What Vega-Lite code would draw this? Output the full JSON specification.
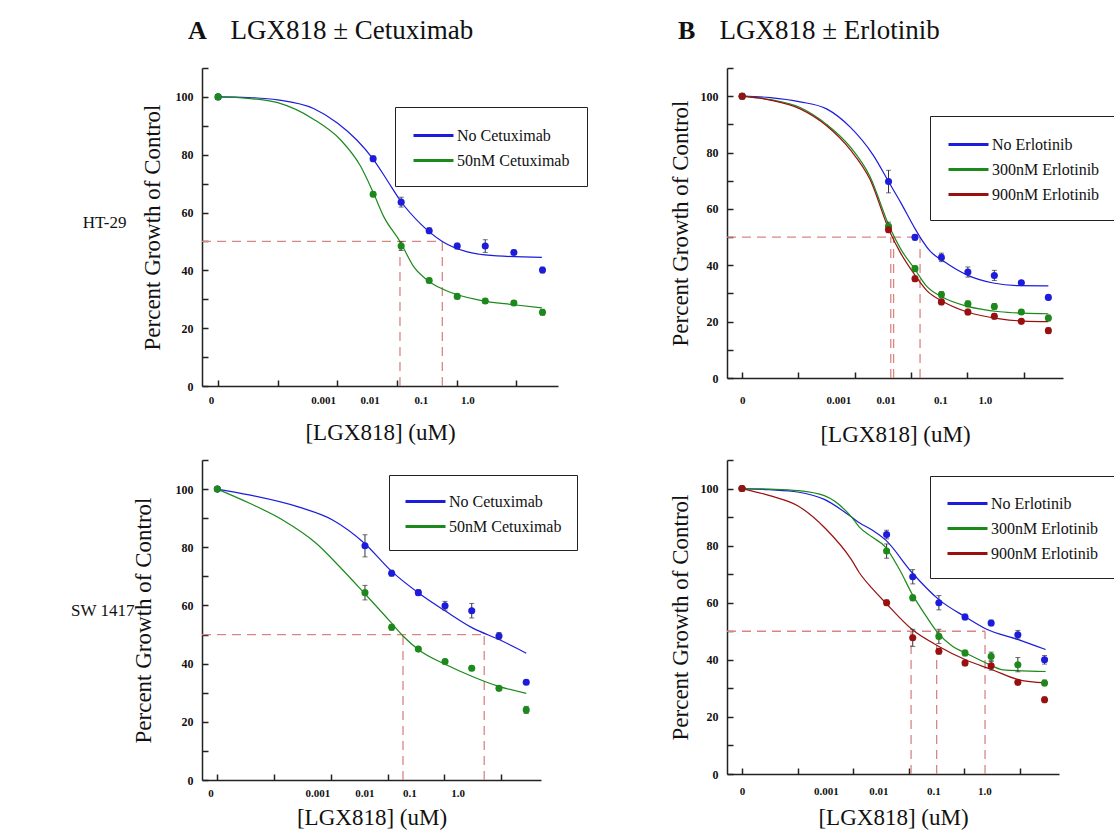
{
  "$schema": "https://vega.github.io/schema/vega-lite/v6.json",
  "autosize": {"type": "none"},
  "padding": {"left": 202, "top": 68, "right": 912, "bottom": 765},
  "background": "white",
  "config": {"view": {"stroke": null}, "font": "Liberation Serif"},
  "datasets": {
    "points": [
      {"panel":"A","series":"No Cetuximab","xpos":0,"growth":100,"err":0.8},
      {"panel":"A","series":"No Cetuximab","xpos":2.6,"growth":78.6,"err":1},
      {"panel":"A","series":"No Cetuximab","xpos":3.07,"growth":63.6,"err":1.7},
      {"panel":"A","series":"No Cetuximab","xpos":3.54,"growth":53.7,"err":1},
      {"panel":"A","series":"No Cetuximab","xpos":4.01,"growth":48.4,"err":1},
      {"panel":"A","series":"No Cetuximab","xpos":4.48,"growth":48.4,"err":2.2},
      {"panel":"A","series":"No Cetuximab","xpos":4.96,"growth":46.2,"err":0.8},
      {"panel":"A","series":"No Cetuximab","xpos":5.44,"growth":40.1,"err":1},
      {"panel":"A","series":"50nM Cetuximab","xpos":0,"growth":100,"err":0.8},
      {"panel":"A","series":"50nM Cetuximab","xpos":2.6,"growth":66.3,"err":0.8},
      {"panel":"A","series":"50nM Cetuximab","xpos":3.07,"growth":48.4,"err":1.5},
      {"panel":"A","series":"50nM Cetuximab","xpos":3.54,"growth":36.5,"err":0.8},
      {"panel":"A","series":"50nM Cetuximab","xpos":4.01,"growth":31,"err":0.8},
      {"panel":"A","series":"50nM Cetuximab","xpos":4.48,"growth":29.4,"err":0.8},
      {"panel":"A","series":"50nM Cetuximab","xpos":4.96,"growth":28.7,"err":0.8},
      {"panel":"A","series":"50nM Cetuximab","xpos":5.44,"growth":25.5,"err":1},
      {"panel":"B","series":"No Erlotinib","xpos":0,"growth":100,"err":0.8},
      {"panel":"B","series":"No Erlotinib","xpos":2.6,"growth":69.7,"err":4},
      {"panel":"B","series":"No Erlotinib","xpos":3.07,"growth":49.9,"err":1},
      {"panel":"B","series":"No Erlotinib","xpos":3.54,"growth":42.8,"err":1.5},
      {"panel":"B","series":"No Erlotinib","xpos":4.01,"growth":37.6,"err":1.8},
      {"panel":"B","series":"No Erlotinib","xpos":4.48,"growth":36.4,"err":1.8},
      {"panel":"B","series":"No Erlotinib","xpos":4.96,"growth":33.8,"err":0.8},
      {"panel":"B","series":"No Erlotinib","xpos":5.44,"growth":28.6,"err":0.8},
      {"panel":"B","series":"300nM Erlotinib","xpos":0,"growth":100,"err":0.8},
      {"panel":"B","series":"300nM Erlotinib","xpos":2.6,"growth":53.8,"err":1.5},
      {"panel":"B","series":"300nM Erlotinib","xpos":3.07,"growth":38.8,"err":1},
      {"panel":"B","series":"300nM Erlotinib","xpos":3.54,"growth":29.6,"err":1},
      {"panel":"B","series":"300nM Erlotinib","xpos":4.01,"growth":26.3,"err":1},
      {"panel":"B","series":"300nM Erlotinib","xpos":4.48,"growth":25.4,"err":1},
      {"panel":"B","series":"300nM Erlotinib","xpos":4.96,"growth":23.4,"err":0.8},
      {"panel":"B","series":"300nM Erlotinib","xpos":5.44,"growth":21.3,"err":1},
      {"panel":"B","series":"900nM Erlotinib","xpos":0,"growth":100,"err":1},
      {"panel":"B","series":"900nM Erlotinib","xpos":2.6,"growth":52.6,"err":1},
      {"panel":"B","series":"900nM Erlotinib","xpos":3.07,"growth":35.2,"err":1},
      {"panel":"B","series":"900nM Erlotinib","xpos":3.54,"growth":27,"err":1},
      {"panel":"B","series":"900nM Erlotinib","xpos":4.01,"growth":23.4,"err":1},
      {"panel":"B","series":"900nM Erlotinib","xpos":4.48,"growth":21.9,"err":1},
      {"panel":"B","series":"900nM Erlotinib","xpos":4.96,"growth":20.1,"err":0.8},
      {"panel":"B","series":"900nM Erlotinib","xpos":5.44,"growth":16.8,"err":1},
      {"panel":"C","series":"No Cetuximab","xpos":0,"growth":100,"err":0.5},
      {"panel":"C","series":"No Cetuximab","xpos":2.6,"growth":80.5,"err":3.8},
      {"panel":"C","series":"No Cetuximab","xpos":3.07,"growth":71.1,"err":1},
      {"panel":"C","series":"No Cetuximab","xpos":3.54,"growth":64.4,"err":1},
      {"panel":"C","series":"No Cetuximab","xpos":4.01,"growth":59.9,"err":1.5},
      {"panel":"C","series":"No Cetuximab","xpos":4.48,"growth":58.2,"err":2.5},
      {"panel":"C","series":"No Cetuximab","xpos":4.96,"growth":49.5,"err":1.2},
      {"panel":"C","series":"No Cetuximab","xpos":5.44,"growth":33.6,"err":0.8},
      {"panel":"C","series":"50nM Cetuximab","xpos":0,"growth":100,"err":0.5},
      {"panel":"C","series":"50nM Cetuximab","xpos":2.6,"growth":64.4,"err":2.5},
      {"panel":"C","series":"50nM Cetuximab","xpos":3.07,"growth":52.5,"err":1},
      {"panel":"C","series":"50nM Cetuximab","xpos":3.54,"growth":45,"err":0.8},
      {"panel":"C","series":"50nM Cetuximab","xpos":4.01,"growth":40.7,"err":0.8},
      {"panel":"C","series":"50nM Cetuximab","xpos":4.48,"growth":38.4,"err":0.8},
      {"panel":"C","series":"50nM Cetuximab","xpos":4.96,"growth":31.5,"err":0.8},
      {"panel":"C","series":"50nM Cetuximab","xpos":5.44,"growth":24.1,"err":1.2},
      {"panel":"D","series":"No Erlotinib","xpos":0,"growth":100,"err":0.5},
      {"panel":"D","series":"No Erlotinib","xpos":2.6,"growth":83.9,"err":1.5},
      {"panel":"D","series":"No Erlotinib","xpos":3.07,"growth":69.1,"err":2.5},
      {"panel":"D","series":"No Erlotinib","xpos":3.54,"growth":60,"err":2.5},
      {"panel":"D","series":"No Erlotinib","xpos":4.01,"growth":55,"err":1},
      {"panel":"D","series":"No Erlotinib","xpos":4.48,"growth":52.9,"err":1},
      {"panel":"D","series":"No Erlotinib","xpos":4.96,"growth":48.8,"err":1.5},
      {"panel":"D","series":"No Erlotinib","xpos":5.44,"growth":40,"err":1.5},
      {"panel":"D","series":"300nM Erlotinib","xpos":0,"growth":100,"err":0.5},
      {"panel":"D","series":"300nM Erlotinib","xpos":2.6,"growth":78.1,"err":2.5},
      {"panel":"D","series":"300nM Erlotinib","xpos":3.07,"growth":61.7,"err":1},
      {"panel":"D","series":"300nM Erlotinib","xpos":3.54,"growth":48.2,"err":2.5},
      {"panel":"D","series":"300nM Erlotinib","xpos":4.01,"growth":42.4,"err":1},
      {"panel":"D","series":"300nM Erlotinib","xpos":4.48,"growth":41.2,"err":1.5},
      {"panel":"D","series":"300nM Erlotinib","xpos":4.96,"growth":38.3,"err":2.5},
      {"panel":"D","series":"300nM Erlotinib","xpos":5.44,"growth":31.9,"err":1},
      {"panel":"D","series":"900nM Erlotinib","xpos":0,"growth":100,"err":0.5},
      {"panel":"D","series":"900nM Erlotinib","xpos":2.6,"growth":60,"err":1},
      {"panel":"D","series":"900nM Erlotinib","xpos":3.07,"growth":47.7,"err":3},
      {"panel":"D","series":"900nM Erlotinib","xpos":3.54,"growth":43,"err":1},
      {"panel":"D","series":"900nM Erlotinib","xpos":4.01,"growth":38.9,"err":1},
      {"panel":"D","series":"900nM Erlotinib","xpos":4.48,"growth":37.9,"err":1.5},
      {"panel":"D","series":"900nM Erlotinib","xpos":4.96,"growth":32.1,"err":0.8},
      {"panel":"D","series":"900nM Erlotinib","xpos":5.44,"growth":26,"err":1}
    ],
    "curves": [
      {"panel":"A","series":"No Cetuximab","xpos":0,"growth":100},
      {"panel":"A","series":"No Cetuximab","xpos":0.5,"growth":99.8},
      {"panel":"A","series":"No Cetuximab","xpos":1.0,"growth":99},
      {"panel":"A","series":"No Cetuximab","xpos":1.6,"growth":96},
      {"panel":"A","series":"No Cetuximab","xpos":2.0,"growth":91},
      {"panel":"A","series":"No Cetuximab","xpos":2.33,"growth":85},
      {"panel":"A","series":"No Cetuximab","xpos":2.6,"growth":78.5},
      {"panel":"A","series":"No Cetuximab","xpos":2.84,"growth":71},
      {"panel":"A","series":"No Cetuximab","xpos":3.06,"growth":64},
      {"panel":"A","series":"No Cetuximab","xpos":3.4,"growth":56},
      {"panel":"A","series":"No Cetuximab","xpos":3.76,"growth":50},
      {"panel":"A","series":"No Cetuximab","xpos":4.18,"growth":46.4},
      {"panel":"A","series":"No Cetuximab","xpos":4.68,"growth":45},
      {"panel":"A","series":"No Cetuximab","xpos":5.43,"growth":44.5},
      {"panel":"A","series":"50nM Cetuximab","xpos":0,"growth":100},
      {"panel":"A","series":"50nM Cetuximab","xpos":0.5,"growth":99.5},
      {"panel":"A","series":"50nM Cetuximab","xpos":1.0,"growth":98},
      {"panel":"A","series":"50nM Cetuximab","xpos":1.6,"growth":92.3},
      {"panel":"A","series":"50nM Cetuximab","xpos":2.06,"growth":85},
      {"panel":"A","series":"50nM Cetuximab","xpos":2.39,"growth":76},
      {"panel":"A","series":"50nM Cetuximab","xpos":2.6,"growth":67},
      {"panel":"A","series":"50nM Cetuximab","xpos":2.78,"growth":58.5},
      {"panel":"A","series":"50nM Cetuximab","xpos":3.05,"growth":50},
      {"panel":"A","series":"50nM Cetuximab","xpos":3.28,"growth":41.3},
      {"panel":"A","series":"50nM Cetuximab","xpos":3.55,"growth":36},
      {"panel":"A","series":"50nM Cetuximab","xpos":3.79,"growth":33.3},
      {"panel":"A","series":"50nM Cetuximab","xpos":4.4,"growth":29.6},
      {"panel":"A","series":"50nM Cetuximab","xpos":4.96,"growth":28.1},
      {"panel":"A","series":"50nM Cetuximab","xpos":5.43,"growth":27},
      {"panel":"B","series":"No Erlotinib","xpos":0,"growth":100},
      {"panel":"B","series":"No Erlotinib","xpos":0.5,"growth":99.5},
      {"panel":"B","series":"No Erlotinib","xpos":1.03,"growth":98},
      {"panel":"B","series":"No Erlotinib","xpos":1.5,"growth":95.5},
      {"panel":"B","series":"No Erlotinib","xpos":1.92,"growth":89},
      {"panel":"B","series":"No Erlotinib","xpos":2.33,"growth":79},
      {"panel":"B","series":"No Erlotinib","xpos":2.62,"growth":69},
      {"panel":"B","series":"No Erlotinib","xpos":2.81,"growth":62.5},
      {"panel":"B","series":"No Erlotinib","xpos":3.07,"growth":53},
      {"panel":"B","series":"No Erlotinib","xpos":3.16,"growth":50},
      {"panel":"B","series":"No Erlotinib","xpos":3.34,"growth":45},
      {"panel":"B","series":"No Erlotinib","xpos":3.58,"growth":41.4},
      {"panel":"B","series":"No Erlotinib","xpos":3.99,"growth":36.6},
      {"panel":"B","series":"No Erlotinib","xpos":4.46,"growth":33.7},
      {"panel":"B","series":"No Erlotinib","xpos":4.88,"growth":32.8},
      {"panel":"B","series":"No Erlotinib","xpos":5.44,"growth":32.7},
      {"panel":"B","series":"300nM Erlotinib","xpos":0,"growth":100},
      {"panel":"B","series":"300nM Erlotinib","xpos":0.5,"growth":98.8},
      {"panel":"B","series":"300nM Erlotinib","xpos":1.03,"growth":96},
      {"panel":"B","series":"300nM Erlotinib","xpos":1.5,"growth":90},
      {"panel":"B","series":"300nM Erlotinib","xpos":1.92,"growth":82},
      {"panel":"B","series":"300nM Erlotinib","xpos":2.27,"growth":71.5},
      {"panel":"B","series":"300nM Erlotinib","xpos":2.62,"growth":53.5},
      {"panel":"B","series":"300nM Erlotinib","xpos":2.81,"growth":46},
      {"panel":"B","series":"300nM Erlotinib","xpos":3.07,"growth":38.5},
      {"panel":"B","series":"300nM Erlotinib","xpos":3.28,"growth":32.5},
      {"panel":"B","series":"300nM Erlotinib","xpos":3.58,"growth":28.5},
      {"panel":"B","series":"300nM Erlotinib","xpos":3.99,"growth":25.5},
      {"panel":"B","series":"300nM Erlotinib","xpos":4.58,"growth":23.5},
      {"panel":"B","series":"300nM Erlotinib","xpos":5.0,"growth":23},
      {"panel":"B","series":"300nM Erlotinib","xpos":5.44,"growth":22.8},
      {"panel":"B","series":"900nM Erlotinib","xpos":0,"growth":100},
      {"panel":"B","series":"900nM Erlotinib","xpos":0.5,"growth":98.6},
      {"panel":"B","series":"900nM Erlotinib","xpos":1.03,"growth":95.5},
      {"panel":"B","series":"900nM Erlotinib","xpos":1.5,"growth":89.5},
      {"panel":"B","series":"900nM Erlotinib","xpos":1.92,"growth":81},
      {"panel":"B","series":"900nM Erlotinib","xpos":2.27,"growth":70.5},
      {"panel":"B","series":"900nM Erlotinib","xpos":2.62,"growth":52},
      {"panel":"B","series":"900nM Erlotinib","xpos":2.81,"growth":44.5},
      {"panel":"B","series":"900nM Erlotinib","xpos":3.07,"growth":36.5},
      {"panel":"B","series":"900nM Erlotinib","xpos":3.28,"growth":31},
      {"panel":"B","series":"900nM Erlotinib","xpos":3.58,"growth":27},
      {"panel":"B","series":"900nM Erlotinib","xpos":3.99,"growth":23.5},
      {"panel":"B","series":"900nM Erlotinib","xpos":4.58,"growth":21},
      {"panel":"B","series":"900nM Erlotinib","xpos":5.0,"growth":20.2},
      {"panel":"B","series":"900nM Erlotinib","xpos":5.44,"growth":20},
      {"panel":"C","series":"No Cetuximab","xpos":0,"growth":100},
      {"panel":"C","series":"No Cetuximab","xpos":0.56,"growth":98},
      {"panel":"C","series":"No Cetuximab","xpos":1.44,"growth":93.8},
      {"panel":"C","series":"No Cetuximab","xpos":2.03,"growth":89.4},
      {"panel":"C","series":"No Cetuximab","xpos":2.59,"growth":81.4},
      {"panel":"C","series":"No Cetuximab","xpos":3.07,"growth":71.7},
      {"panel":"C","series":"No Cetuximab","xpos":3.55,"growth":64.2},
      {"panel":"C","series":"No Cetuximab","xpos":4.03,"growth":57.9},
      {"panel":"C","series":"No Cetuximab","xpos":4.5,"growth":52.2},
      {"panel":"C","series":"No Cetuximab","xpos":4.97,"growth":48.2},
      {"panel":"C","series":"No Cetuximab","xpos":5.44,"growth":43.6},
      {"panel":"C","series":"50nM Cetuximab","xpos":0,"growth":100},
      {"panel":"C","series":"50nM Cetuximab","xpos":0.56,"growth":95.2},
      {"panel":"C","series":"50nM Cetuximab","xpos":1.15,"growth":89.4},
      {"panel":"C","series":"50nM Cetuximab","xpos":1.74,"growth":81.4},
      {"panel":"C","series":"50nM Cetuximab","xpos":2.15,"growth":73.4},
      {"panel":"C","series":"50nM Cetuximab","xpos":2.59,"growth":64.2},
      {"panel":"C","series":"50nM Cetuximab","xpos":3.07,"growth":53.9},
      {"panel":"C","series":"50nM Cetuximab","xpos":3.27,"growth":49.5},
      {"panel":"C","series":"50nM Cetuximab","xpos":3.55,"growth":44.7},
      {"panel":"C","series":"50nM Cetuximab","xpos":4.03,"growth":39.6},
      {"panel":"C","series":"50nM Cetuximab","xpos":4.5,"growth":35.5},
      {"panel":"C","series":"50nM Cetuximab","xpos":4.97,"growth":32.1},
      {"panel":"C","series":"50nM Cetuximab","xpos":5.44,"growth":29.8},
      {"panel":"D","series":"No Erlotinib","xpos":0,"growth":100},
      {"panel":"D","series":"No Erlotinib","xpos":0.5,"growth":99.6},
      {"panel":"D","series":"No Erlotinib","xpos":1.0,"growth":98.8},
      {"panel":"D","series":"No Erlotinib","xpos":1.48,"growth":96.2},
      {"panel":"D","series":"No Erlotinib","xpos":1.97,"growth":90},
      {"panel":"D","series":"No Erlotinib","xpos":2.11,"growth":88},
      {"panel":"D","series":"No Erlotinib","xpos":2.34,"growth":85.5},
      {"panel":"D","series":"No Erlotinib","xpos":2.58,"growth":82},
      {"panel":"D","series":"No Erlotinib","xpos":3.06,"growth":70.5},
      {"panel":"D","series":"No Erlotinib","xpos":3.54,"growth":61.1},
      {"panel":"D","series":"No Erlotinib","xpos":4.02,"growth":55},
      {"panel":"D","series":"No Erlotinib","xpos":4.37,"growth":51},
      {"panel":"D","series":"No Erlotinib","xpos":4.98,"growth":47},
      {"panel":"D","series":"No Erlotinib","xpos":5.46,"growth":43.6},
      {"panel":"D","series":"300nM Erlotinib","xpos":0,"growth":100},
      {"panel":"D","series":"300nM Erlotinib","xpos":0.5,"growth":99.8},
      {"panel":"D","series":"300nM Erlotinib","xpos":1.0,"growth":99.3},
      {"panel":"D","series":"300nM Erlotinib","xpos":1.48,"growth":97.5},
      {"panel":"D","series":"300nM Erlotinib","xpos":1.97,"growth":90},
      {"panel":"D","series":"300nM Erlotinib","xpos":2.11,"growth":86.5},
      {"panel":"D","series":"300nM Erlotinib","xpos":2.34,"growth":83},
      {"panel":"D","series":"300nM Erlotinib","xpos":2.58,"growth":79.5},
      {"panel":"D","series":"300nM Erlotinib","xpos":2.83,"growth":71.7},
      {"panel":"D","series":"300nM Erlotinib","xpos":3.06,"growth":63},
      {"panel":"D","series":"300nM Erlotinib","xpos":3.31,"growth":55.3},
      {"panel":"D","series":"300nM Erlotinib","xpos":3.5,"growth":50},
      {"panel":"D","series":"300nM Erlotinib","xpos":3.79,"growth":44.7},
      {"panel":"D","series":"300nM Erlotinib","xpos":4.02,"growth":42.4},
      {"panel":"D","series":"300nM Erlotinib","xpos":4.39,"growth":38.9},
      {"panel":"D","series":"300nM Erlotinib","xpos":4.69,"growth":36.5},
      {"panel":"D","series":"300nM Erlotinib","xpos":5.46,"growth":35.9},
      {"panel":"D","series":"900nM Erlotinib","xpos":0,"growth":100},
      {"panel":"D","series":"900nM Erlotinib","xpos":0.5,"growth":97.5},
      {"panel":"D","series":"900nM Erlotinib","xpos":1.0,"growth":94},
      {"panel":"D","series":"900nM Erlotinib","xpos":1.5,"growth":86},
      {"panel":"D","series":"900nM Erlotinib","xpos":1.97,"growth":75},
      {"panel":"D","series":"900nM Erlotinib","xpos":2.11,"growth":70.5},
      {"panel":"D","series":"900nM Erlotinib","xpos":2.34,"growth":65},
      {"panel":"D","series":"900nM Erlotinib","xpos":2.58,"growth":60},
      {"panel":"D","series":"900nM Erlotinib","xpos":3.06,"growth":50.6},
      {"panel":"D","series":"900nM Erlotinib","xpos":3.54,"growth":44.7},
      {"panel":"D","series":"900nM Erlotinib","xpos":4.02,"growth":40},
      {"panel":"D","series":"900nM Erlotinib","xpos":4.5,"growth":36.5},
      {"panel":"D","series":"900nM Erlotinib","xpos":4.98,"growth":33},
      {"panel":"D","series":"900nM Erlotinib","xpos":5.46,"growth":31.9}
    ],
    "ic50": [
      {"panel":"A","x0":-0.27,"x1":3.76,"y0":50,"y1":50},
      {"panel":"A","x0":3.05,"x1":3.05,"y0":0,"y1":50},
      {"panel":"A","x0":3.76,"x1":3.76,"y0":0,"y1":50},
      {"panel":"B","x0":-0.27,"x1":3.16,"y0":50,"y1":50},
      {"panel":"B","x0":2.64,"x1":2.64,"y0":0,"y1":50},
      {"panel":"B","x0":2.69,"x1":2.69,"y0":0,"y1":50},
      {"panel":"B","x0":3.16,"x1":3.16,"y0":0,"y1":50},
      {"panel":"C","x0":-0.27,"x1":4.7,"y0":50,"y1":50},
      {"panel":"C","x0":3.27,"x1":3.27,"y0":0,"y1":50},
      {"panel":"C","x0":4.7,"x1":4.7,"y0":0,"y1":50},
      {"panel":"D","x0":-0.27,"x1":4.37,"y0":50,"y1":50},
      {"panel":"D","x0":3.04,"x1":3.04,"y0":0,"y1":50},
      {"panel":"D","x0":3.5,"x1":3.5,"y0":0,"y1":50},
      {"panel":"D","x0":4.37,"x1":4.37,"y0":0,"y1":50}
    ]
  },
  "columns": 2,
  "spacing": {"row": 74, "column": 169},
  "bounds": "flush",
  "resolve": {"scale": {"color": "independent"}, "legend": {"color": "independent"}},
  "concat": [
    {
      "width": 356, "height": 318,
      "title": {"text": "A", "anchor": "start", "frame": "group", "dx": -14, "offset": -28, "font": "Liberation Serif", "fontSize": 26, "fontWeight": "bold", "color": "#111"},
      "resolve": {"axis": {"x": "independent", "y": "independent"}},
      "layer": [
        {
          "data": {"name": "ic50"}, "transform": [{"filter": "datum.panel == 'A'"}],
          "mark": {"type": "rule", "color": "#d98585", "strokeDash": [9, 6], "strokeWidth": 1.3},
          "encoding": {
            "x": {"field": "x0", "type": "quantitative", "scale": {"domain": [-0.27, 5.7], "nice": false, "zero": false},
                  "axis": {"orient": "bottom", "values": [0,1,2,3,4,5], "labels": false, "tickSize": -6, "tickWidth": 1.5, "tickColor": "#222", "domainColor": "#222", "domainWidth": 1.5, "grid": false, "title": null}},
            "x2": {"field": "x1"},
            "y": {"field": "y0", "type": "quantitative", "scale": {"domain": [0, 110], "nice": false},
                  "axis": {"orient": "left", "domain": false, "ticks": false, "labels": false, "grid": false, "title": "HT-29", "titleAngle": 0, "titleAlign": "right", "titleBaseline": "middle", "titleFont": "Liberation Serif", "titleFontSize": 17, "titleFontWeight": "normal", "titleColor": "#111", "titlePadding": 0, "titleY": 154, "offset": 76, "minExtent": 0, "maxExtent": 0}},
            "y2": {"field": "y1"}
          }
        },
        {
          "data": {"name": "curves"}, "transform": [{"filter": "datum.panel == 'A'"}],
          "mark": {"type": "line", "interpolate": "monotone", "strokeWidth": 1.2},
          "encoding": {
            "x": {"field": "xpos", "type": "quantitative",
                  "axis": {"orient": "bottom", "values": [-0.12, 1.76, 2.54, 3.4, 4.18], "labelExpr": "datum.value < 0.5 ? '0' : datum.value < 2 ? '0.001' : datum.value < 3 ? '0.01' : datum.value < 3.9 ? '0.1' : '1.0'", "ticks": false, "domain": false, "grid": false, "labelFont": "Liberation Serif", "labelFontWeight": "bold", "labelFontSize": 11, "labelColor": "#111", "labelPadding": 8, "labelFlush": false, "labelOverlap": false, "title": "[LGX818] (uM)", "titleFont": "Liberation Serif", "titleFontSize": 23, "titleFontWeight": "normal", "titleColor": "#111", "titlePadding": 16}},
            "y": {"field": "growth", "type": "quantitative",
                  "axis": {"orient": "left", "values": [0,10,20,30,40,50,60,70,80,90,100,110], "labelExpr": "datum.value % 20 === 0 && datum.value <= 100 ? datum.label : ''", "tickSize": -6, "tickWidth": 1.5, "tickColor": "#222", "domainColor": "#222", "domainWidth": 1.5, "grid": false, "labelFont": "Liberation Serif", "labelFontWeight": "bold", "labelFontSize": 12, "labelColor": "#111", "labelPadding": 15, "title": "Percent Growth of Control", "titleFont": "Liberation Serif", "titleFontSize": 23, "titleFontWeight": "normal", "titleColor": "#111", "titlePadding": 11}},
            "color": {"field": "series", "type": "nominal",
                      "scale": {"domain": ["No Cetuximab", "50nM Cetuximab"], "range": ["#1c1cdc", "#1b8a1b"]},
                      "legend": {"orient": "none", "legendX": 193, "legendY": 39, "title": null, "symbolType": "M-1,0L3,0", "symbolSize": 400, "symbolStrokeWidth": 3, "strokeColor": "#222", "fillColor": "white", "padding": 17, "rowPadding": 5, "labelFont": "Liberation Serif", "labelFontSize": 16, "labelColor": "#111", "labelOffset": 22}}
          }
        },
        {
          "data": {"name": "points"}, "transform": [{"filter": "datum.panel == 'A'"}],
          "mark": {"type": "errorbar", "ticks": true, "color": "#333", "thickness": 1},
          "encoding": {
            "x": {"field": "xpos", "type": "quantitative", "axis": null},
            "y": {"field": "growth", "type": "quantitative", "axis": null},
            "yError": {"field": "err"}
          }
        },
        {
          "data": {"name": "points"}, "transform": [{"filter": "datum.panel == 'A'"}],
          "mark": {"type": "point", "filled": true, "size": 50, "opacity": 1},
          "encoding": {
            "x": {"field": "xpos", "type": "quantitative",
                  "axis": {"orient": "top", "domain": false, "ticks": false, "labels": false, "grid": false, "title": "LGX818 ± Cetuximab", "titleFont": "Liberation Serif", "titleFontSize": 27, "titleFontWeight": "normal", "titleColor": "#111", "titleAlign": "left", "titleAnchor": "start", "titleBaseline": "middle", "titleX": 28, "titleY": -38}},
            "y": {"field": "growth", "type": "quantitative", "axis": null},
            "color": {"field": "series", "type": "nominal", "scale": {"domain": ["No Cetuximab", "50nM Cetuximab"], "range": ["#1c1cdc", "#1b8a1b"]}, "legend": null}
          }
        }
      ]
    },
    {
      "width": 336, "height": 310,
      "title": {"text": "B", "anchor": "start", "frame": "group", "dx": -49, "offset": -28, "font": "Liberation Serif", "fontSize": 26, "fontWeight": "bold", "color": "#111"},
      "resolve": {"axis": {"x": "independent", "y": "independent"}},
      "layer": [
        {
          "data": {"name": "ic50"}, "transform": [{"filter": "datum.panel == 'B'"}],
          "mark": {"type": "rule", "color": "#d98585", "strokeDash": [9, 6], "strokeWidth": 1.3},
          "encoding": {
            "x": {"field": "x0", "type": "quantitative", "scale": {"domain": [-0.27, 5.7], "nice": false, "zero": false},
                  "axis": {"orient": "bottom", "values": [0,1,2,3,4,5], "labels": false, "tickSize": -6, "tickWidth": 1.5, "tickColor": "#222", "domainColor": "#222", "domainWidth": 1.5, "grid": false, "title": null}},
            "x2": {"field": "x1"},
            "y": {"field": "y0", "type": "quantitative", "scale": {"domain": [0, 110], "nice": false}, "axis": null},
            "y2": {"field": "y1"}
          }
        },
        {
          "data": {"name": "curves"}, "transform": [{"filter": "datum.panel == 'B'"}],
          "mark": {"type": "line", "interpolate": "monotone", "strokeWidth": 1.2},
          "encoding": {
            "x": {"field": "xpos", "type": "quantitative",
                  "axis": {"orient": "bottom", "values": [0, 1.71, 2.55, 3.52, 4.31], "labelExpr": "datum.value < 0.5 ? '0' : datum.value < 2 ? '0.001' : datum.value < 3 ? '0.01' : datum.value < 3.9 ? '0.1' : '1.0'", "ticks": false, "domain": false, "grid": false, "labelFont": "Liberation Serif", "labelFontWeight": "bold", "labelFontSize": 11, "labelColor": "#111", "labelPadding": 16, "labelFlush": false, "labelOverlap": false, "title": "[LGX818] (uM)", "titleFont": "Liberation Serif", "titleFontSize": 23, "titleFontWeight": "normal", "titleColor": "#111", "titlePadding": 18}},
            "y": {"field": "growth", "type": "quantitative",
                  "axis": {"orient": "left", "values": [0,10,20,30,40,50,60,70,80,90,100,110], "labelExpr": "datum.value % 20 === 0 && datum.value <= 100 ? datum.label : ''", "tickSize": -6, "tickWidth": 1.5, "tickColor": "#222", "domainColor": "#222", "domainWidth": 1.5, "grid": false, "labelFont": "Liberation Serif", "labelFontWeight": "bold", "labelFontSize": 12, "labelColor": "#111", "labelPadding": 15, "title": "Percent Growth of Control", "titleFont": "Liberation Serif", "titleFontSize": 23, "titleFontWeight": "normal", "titleColor": "#111", "titlePadding": 8}},
            "color": {"field": "series", "type": "nominal",
                      "scale": {"domain": ["No Erlotinib", "300nM Erlotinib", "900nM Erlotinib"], "range": ["#1c1cdc", "#1b8a1b", "#9a0f0f"]},
                      "legend": {"orient": "none", "legendX": 203, "legendY": 48, "title": null, "symbolType": "M-1,0L3,0", "symbolSize": 400, "symbolStrokeWidth": 3, "strokeColor": "#222", "fillColor": "white", "padding": 17, "rowPadding": 5, "labelFont": "Liberation Serif", "labelFontSize": 16, "labelColor": "#111", "labelOffset": 22}}
          }
        },
        {
          "data": {"name": "points"}, "transform": [{"filter": "datum.panel == 'B'"}],
          "mark": {"type": "errorbar", "ticks": true, "color": "#333", "thickness": 1},
          "encoding": {
            "x": {"field": "xpos", "type": "quantitative", "axis": null},
            "y": {"field": "growth", "type": "quantitative", "axis": null},
            "yError": {"field": "err"}
          }
        },
        {
          "data": {"name": "points"}, "transform": [{"filter": "datum.panel == 'B'"}],
          "mark": {"type": "point", "filled": true, "size": 50, "opacity": 1},
          "encoding": {
            "x": {"field": "xpos", "type": "quantitative",
                  "axis": {"orient": "top", "domain": false, "ticks": false, "labels": false, "grid": false, "title": "LGX818 ± Erlotinib", "titleFont": "Liberation Serif", "titleFontSize": 27, "titleFontWeight": "normal", "titleColor": "#111", "titleAlign": "left", "titleAnchor": "start", "titleBaseline": "middle", "titleX": -8, "titleY": -38}},
            "y": {"field": "growth", "type": "quantitative", "axis": null},
            "color": {"field": "series", "type": "nominal", "scale": {"domain": ["No Erlotinib", "300nM Erlotinib", "900nM Erlotinib"], "range": ["#1c1cdc", "#1b8a1b", "#9a0f0f"]}, "legend": null}
          }
        }
      ]
    },
    {
      "width": 339, "height": 320,
      "resolve": {"axis": {"x": "independent", "y": "independent"}},
      "layer": [
        {
          "data": {"name": "ic50"}, "transform": [{"filter": "datum.panel == 'C'"}],
          "mark": {"type": "rule", "color": "#d98585", "strokeDash": [9, 6], "strokeWidth": 1.3},
          "encoding": {
            "x": {"field": "x0", "type": "quantitative", "scale": {"domain": [-0.27, 5.7], "nice": false, "zero": false},
                  "axis": {"orient": "bottom", "values": [0,1,2,3,4,5], "labels": false, "tickSize": -6, "tickWidth": 1.5, "tickColor": "#222", "domainColor": "#222", "domainWidth": 1.5, "grid": false, "title": null}},
            "x2": {"field": "x1"},
            "y": {"field": "y0", "type": "quantitative", "scale": {"domain": [0, 110], "nice": false},
                  "axis": {"orient": "left", "domain": false, "ticks": false, "labels": false, "grid": false, "title": "SW 1417", "titleAngle": 0, "titleAlign": "right", "titleBaseline": "middle", "titleFont": "Liberation Serif", "titleFontSize": 17, "titleFontWeight": "normal", "titleColor": "#111", "titlePadding": 0, "titleY": 150, "offset": 68, "minExtent": 0, "maxExtent": 0}},
            "y2": {"field": "y1"}
          }
        },
        {
          "data": {"name": "curves"}, "transform": [{"filter": "datum.panel == 'C'"}],
          "mark": {"type": "line", "interpolate": "monotone", "strokeWidth": 1.2},
          "encoding": {
            "x": {"field": "xpos", "type": "quantitative",
                  "axis": {"orient": "bottom", "values": [-0.12, 1.76, 2.59, 3.38, 4.23], "labelExpr": "datum.value < 0.5 ? '0' : datum.value < 2 ? '0.001' : datum.value < 3 ? '0.01' : datum.value < 3.9 ? '0.1' : '1.0'", "ticks": false, "domain": false, "grid": false, "labelFont": "Liberation Serif", "labelFontWeight": "bold", "labelFontSize": 11, "labelColor": "#111", "labelPadding": 7, "labelFlush": false, "labelOverlap": false, "title": "[LGX818] (uM)", "titleFont": "Liberation Serif", "titleFontSize": 23, "titleFontWeight": "normal", "titleColor": "#111", "titlePadding": 8}},
            "y": {"field": "growth", "type": "quantitative",
                  "axis": {"orient": "left", "values": [0,10,20,30,40,50,60,70,80,90,100,110], "labelExpr": "datum.value % 20 === 0 && datum.value <= 100 ? datum.label : ''", "tickSize": -6, "tickWidth": 1.5, "tickColor": "#222", "domainColor": "#222", "domainWidth": 1.5, "grid": false, "labelFont": "Liberation Serif", "labelFontWeight": "bold", "labelFontSize": 12, "labelColor": "#111", "labelPadding": 15, "title": "Percent Growth of Control", "titleFont": "Liberation Serif", "titleFontSize": 23, "titleFontWeight": "normal", "titleColor": "#111", "titlePadding": 20}},
            "color": {"field": "series", "type": "nominal",
                      "scale": {"domain": ["No Cetuximab", "50nM Cetuximab"], "range": ["#1c1cdc", "#1b8a1b"]},
                      "legend": {"orient": "none", "legendX": 187, "legendY": 15, "title": null, "symbolType": "M-1,0L3,0", "symbolSize": 400, "symbolStrokeWidth": 3, "strokeColor": "#222", "fillColor": "white", "padding": 15, "rowPadding": 5, "labelFont": "Liberation Serif", "labelFontSize": 16, "labelColor": "#111", "labelOffset": 22}}
          }
        },
        {
          "data": {"name": "points"}, "transform": [{"filter": "datum.panel == 'C'"}],
          "mark": {"type": "errorbar", "ticks": true, "color": "#333", "thickness": 1},
          "encoding": {
            "x": {"field": "xpos", "type": "quantitative", "axis": null},
            "y": {"field": "growth", "type": "quantitative", "axis": null},
            "yError": {"field": "err"}
          }
        },
        {
          "data": {"name": "points"}, "transform": [{"filter": "datum.panel == 'C'"}],
          "mark": {"type": "point", "filled": true, "size": 50, "opacity": 1},
          "encoding": {
            "x": {"field": "xpos", "type": "quantitative", "axis": null},
            "y": {"field": "growth", "type": "quantitative", "axis": null},
            "color": {"field": "series", "type": "nominal", "scale": {"domain": ["No Cetuximab", "50nM Cetuximab"], "range": ["#1c1cdc", "#1b8a1b"]}, "legend": null}
          }
        }
      ]
    },
    {
      "width": 332, "height": 314,
      "resolve": {"axis": {"x": "independent", "y": "independent"}},
      "layer": [
        {
          "data": {"name": "ic50"}, "transform": [{"filter": "datum.panel == 'D'"}],
          "mark": {"type": "rule", "color": "#d98585", "strokeDash": [9, 6], "strokeWidth": 1.3},
          "encoding": {
            "x": {"field": "x0", "type": "quantitative", "scale": {"domain": [-0.27, 5.7], "nice": false, "zero": false},
                  "axis": {"orient": "bottom", "values": [0,1,2,3,4,5], "labels": false, "tickSize": -6, "tickWidth": 1.5, "tickColor": "#222", "domainColor": "#222", "domainWidth": 1.5, "grid": false, "title": null}},
            "x2": {"field": "x1"},
            "y": {"field": "y0", "type": "quantitative", "scale": {"domain": [0, 110], "nice": false}, "axis": null},
            "y2": {"field": "y1"}
          }
        },
        {
          "data": {"name": "curves"}, "transform": [{"filter": "datum.panel == 'D'"}],
          "mark": {"type": "line", "interpolate": "monotone", "strokeWidth": 1.2},
          "encoding": {
            "x": {"field": "xpos", "type": "quantitative",
                  "axis": {"orient": "bottom", "values": [0, 1.51, 2.45, 3.44, 4.36], "labelExpr": "datum.value < 0.5 ? '0' : datum.value < 2 ? '0.001' : datum.value < 3 ? '0.01' : datum.value < 3.9 ? '0.1' : '1.0'", "ticks": false, "domain": false, "grid": false, "labelFont": "Liberation Serif", "labelFontWeight": "bold", "labelFontSize": 11, "labelColor": "#111", "labelPadding": 11, "labelFlush": false, "labelOverlap": false, "title": "[LGX818] (uM)", "titleFont": "Liberation Serif", "titleFontSize": 23, "titleFontWeight": "normal", "titleColor": "#111", "titlePadding": 10}},
            "y": {"field": "growth", "type": "quantitative",
                  "axis": {"orient": "left", "values": [0,10,20,30,40,50,60,70,80,90,100,110], "labelExpr": "datum.value % 20 === 0 && datum.value <= 100 ? datum.label : ''", "tickSize": -6, "tickWidth": 1.5, "tickColor": "#222", "domainColor": "#222", "domainWidth": 1.5, "grid": false, "labelFont": "Liberation Serif", "labelFontWeight": "bold", "labelFontSize": 12, "labelColor": "#111", "labelPadding": 15, "title": "Percent Growth of Control", "titleFont": "Liberation Serif", "titleFontSize": 23, "titleFontWeight": "normal", "titleColor": "#111", "titlePadding": 8}},
            "color": {"field": "series", "type": "nominal",
                      "scale": {"domain": ["No Erlotinib", "300nM Erlotinib", "900nM Erlotinib"], "range": ["#1c1cdc", "#1b8a1b", "#9a0f0f"]},
                      "legend": {"orient": "none", "legendX": 203, "legendY": 16, "title": null, "symbolType": "M-1,0L3,0", "symbolSize": 400, "symbolStrokeWidth": 3, "strokeColor": "#222", "fillColor": "white", "padding": 16, "rowPadding": 5, "labelFont": "Liberation Serif", "labelFontSize": 16, "labelColor": "#111", "labelOffset": 22}}
          }
        },
        {
          "data": {"name": "points"}, "transform": [{"filter": "datum.panel == 'D'"}],
          "mark": {"type": "errorbar", "ticks": true, "color": "#333", "thickness": 1},
          "encoding": {
            "x": {"field": "xpos", "type": "quantitative", "axis": null},
            "y": {"field": "growth", "type": "quantitative", "axis": null},
            "yError": {"field": "err"}
          }
        },
        {
          "data": {"name": "points"}, "transform": [{"filter": "datum.panel == 'D'"}],
          "mark": {"type": "point", "filled": true, "size": 50, "opacity": 1},
          "encoding": {
            "x": {"field": "xpos", "type": "quantitative", "axis": null},
            "y": {"field": "growth", "type": "quantitative", "axis": null},
            "color": {"field": "series", "type": "nominal", "scale": {"domain": ["No Erlotinib", "300nM Erlotinib", "900nM Erlotinib"], "range": ["#1c1cdc", "#1b8a1b", "#9a0f0f"]}, "legend": null}
          }
        }
      ]
    }
  ]
}
